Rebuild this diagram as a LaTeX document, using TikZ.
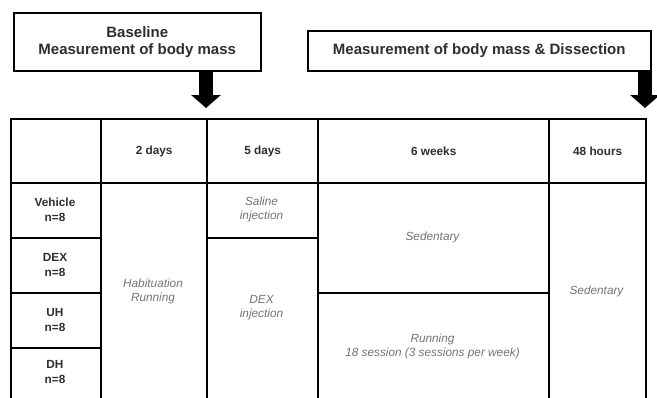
\documentclass[tikz,border=0pt]{standalone}
\usepackage{fontspec}
\setmainfont{Liberation Sans}
\usetikzlibrary{arrows.meta}
\definecolor{txtgray}{HTML}{727272}
\definecolor{hdrgray}{HTML}{2E2E2E}
\begin{document}
\begin{tikzpicture}[x=1pt,y=-1pt,
 cell/.style={draw, line width=2.4pt, inner sep=0pt, anchor=north west},
 hdr/.style={font=\bfseries\fontsize{11.8}{15.5}\selectfont, text=hdrgray, align=center},
 body/.style={font=\itshape\fontsize{11.8}{14}\selectfont, text=txtgray, align=center},
 topbox/.style={draw, line width=1.5pt, inner sep=0pt, anchor=north west, font=\bfseries\fontsize{15}{17}\selectfont, text=hdrgray, align=center},
 bigarrow/.style={line width=14pt, -{Triangle[length=13pt,width=29pt]}, black}]
\useasboundingbox (0,0) rectangle (657,397);
\begin{scope}
\clip (0,0) rectangle (657,397);
% header row
\node[cell, minimum width=90pt, minimum height=64pt] (corner) at (10,118) {};
\node[cell, minimum width=106pt, minimum height=64pt] (h2) at (100,118) {};
\node[cell, minimum width=111pt, minimum height=64pt] (h5) at (206,118) {};
\node[cell, minimum width=231pt, minimum height=64pt] (h6) at (317,118) {};
\node[cell, minimum width=97pt, minimum height=64pt] (h48) at (548,118) {};
% group column
\node[cell, minimum width=90pt, minimum height=55pt] (veh) at (10,182) {};
\node[cell, minimum width=90pt, minimum height=55pt] (dex) at (10,237) {};
\node[cell, minimum width=90pt, minimum height=55pt] (uh) at (10,292) {};
\node[cell, minimum width=90pt, minimum height=60pt] (dh) at (10,347) {};
% body cells
\node[cell, minimum width=106pt, minimum height=225pt] (habit) at (100,182) {};
\node[cell, minimum width=111pt, minimum height=55pt] (saline) at (206,182) {};
\node[cell, minimum width=111pt, minimum height=170pt] (dexinj) at (206,237) {};
\node[cell, minimum width=231pt, minimum height=110pt] (sed) at (317,182) {};
\node[cell, minimum width=231pt, minimum height=115pt] (run) at (317,292) {};
\node[cell, minimum width=97pt, minimum height=225pt] (sed48) at (548,182) {};
\end{scope}
% header texts
\node[hdr] (t2) at (h2.center) {2 days};
\node[hdr] (t5) at (h5.center) {5 days};
\node[hdr] (t6) at (h6.center) {6 weeks};
\node[hdr] (t48) at (h48.center) {48 hours};
% group texts
\node[hdr] (tveh) at (55,210) {Vehicle\\n=8};
\node[hdr] (tdex) at (55,265) {DEX\\n=8};
\node[hdr] (tuh) at (55,320) {UH\\n=8};
\node[hdr] (tdh) at (55,372) {DH\\n=8};
% body texts
\node[body] (thab) at (153,291) {Habituation\\Running};
\node[body] (tsal) at (261.5,209.5) {Saline\\injection};
\node[body] (tdexi) at (261.5,308) {DEX\\injection};
\node[body] (tsed) at (432.5,237) {Sedentary};
\node[body] (trun) at (432.5,346) {Running\\18 session (3 sessions per week)};
\node[body] (tsed48) at (596.5,291) {Sedentary};
% top boxes
\node[topbox, minimum width=247pt, minimum height=58pt] (box1) at (13,12) {Baseline\\Measurement of body mass};
\node[topbox, minimum width=343pt, minimum height=40pt] (box2) at (307,30) {Measurement of body mass \& Dissection};
\coordinate (tip1) at (206,108);
\coordinate (tip2) at (645,108);
\draw[bigarrow] (box1.south -| tip1) -- (tip1);
\draw[bigarrow] (box2.south -| tip2) -- (tip2);
\end{tikzpicture}
\end{document}
